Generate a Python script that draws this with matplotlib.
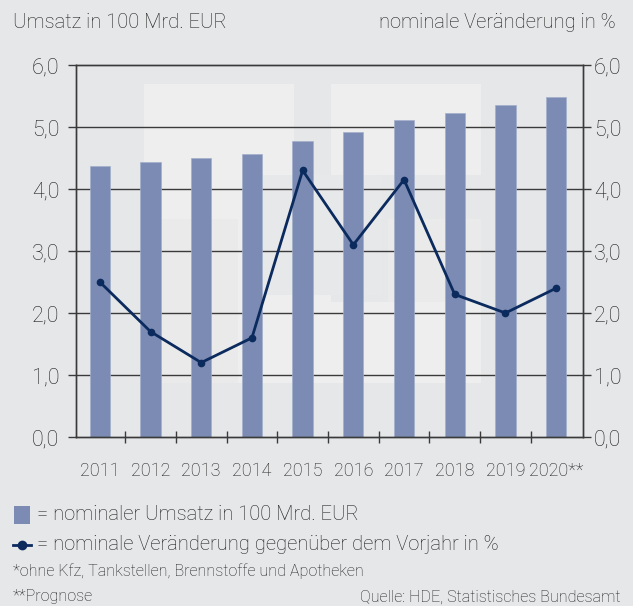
import matplotlib as mpl
mpl.use("Agg")
import matplotlib.pyplot as plt
from matplotlib.patches import Rectangle
from matplotlib.lines import Line2D
import numpy as np

years = ["2011", "2012", "2013", "2014", "2015", "2016", "2017", "2018", "2019", "2020**"]
umsatz = [4.37, 4.44, 4.50, 4.57, 4.77, 4.92, 5.11, 5.23, 5.35, 5.48]
veraenderung = [2.5, 1.7, 1.2, 1.6, 4.3, 3.1, 4.15, 2.3, 2.0, 2.4]
yticks = [0.0, 1.0, 2.0, 3.0, 4.0, 5.0, 6.0]

BG = "#e6e7e9"
LIGHT = "#eeeeee"
BAR = "#7b8bb3"
NAVY = "#0b2a5e"
INK = "#3a3a3a"
TXT = "#1e1e1e"

mpl.rcParams.update({"font.family": "Roboto", "font.weight": "light"})

W, H = 633, 606
fig = plt.figure(figsize=(W / 100, H / 100), dpi=100, facecolor=BG)
ax = fig.add_axes([76 / W, 1 - 437 / H, (583 - 76) / W, (437 - 65) / H])
ax.set_facecolor("none")


def px_rect(x0, y0, x1, y1, color):
    # rectangle given in pixel coords (origin top-left), drawn behind the axes
    fig.patches.append(Rectangle((x0 / W, 1 - y1 / H), (x1 - x0) / W, (y1 - y0) / H,
                                 transform=fig.transFigure, facecolor=color,
                                 edgecolor="none", zorder=-5))


# faint logo blocks in the plot background
px_rect(144, 84, 294, 220, LIGHT)
px_rect(331, 84, 481, 175, LIGHT)
px_rect(238, 219, 331, 383, LIGHT)
px_rect(160, 219, 238, 383, "#eaeaeb")
px_rect(331, 302, 481, 383, LIGHT)
px_rect(388, 219, 481, 302, "#eaeaeb")
px_rect(262, 175, 382, 295, "#e7e8ea")

x = np.arange(len(years))
for yv in yticks[1:-1]:
    ax.axhline(yv, color=INK, lw=1.0, zorder=1)
ax.bar(x, umsatz, width=0.4, color=BAR, edgecolor="#a3aecb", linewidth=0.5, zorder=2)
ax.plot(x, veraenderung, color=NAVY, lw=2.0, marker="o", ms=4.5, zorder=3)

ax.set_xlim(-0.47, 9.53)
ax.set_ylim(0, 6)
ax.set_yticks(yticks)
ax.set_yticklabels([f"{v:.1f}".replace(".", ",") for v in yticks])
ax.set_xticks(x[:-1] + 0.5)
ax.set_xticklabels([])
ax.set_xticks(x, minor=True)
ax.set_xticklabels(years, minor=True)
ax.tick_params(axis="x", which="major", direction="inout", length=9, width=1.0, color=INK)
ax.tick_params(axis="x", which="minor", length=0, pad=18, labelsize=13, labelcolor=TXT)
ax.tick_params(axis="y", direction="out", length=6, width=1.0, color=INK,
               labelsize=15.5, labelcolor=TXT, pad=6)
for s in ax.spines.values():
    s.set_color(INK); s.set_linewidth(1.0)

ax2 = ax.twinx()
ax2.set_ylim(0, 6)
ax2.set_yticks(yticks)
ax2.set_yticklabels([f"{v:.1f}".replace(".", ",") for v in yticks])
ax2.tick_params(axis="y", direction="out", length=6, width=1.0, color=INK,
                labelsize=15.5, labelcolor=TXT, pad=2)
for s in ax2.spines.values():
    s.set_color(INK); s.set_linewidth(1.0)

fig.text(13 / W, 1 - 22 / H, "Umsatz in 100 Mrd. EUR", fontsize=14.5, color=TXT,
         ha="left", va="center")
fig.text(616 / W, 1 - 22 / H, "nominale Veränderung in %", fontsize=14.5, color=TXT,
         ha="right", va="center")

# legend
px_rect(14, 506, 30, 524, BAR)
fig.lines.append(Line2D([13 / W, 31 / W], [1 - 545 / H, 1 - 545 / H], color=NAVY, lw=2,
                        transform=fig.transFigure))
fig.lines.append(Line2D([22 / W], [1 - 545 / H], color=NAVY, marker="o", ms=6,
                        transform=fig.transFigure))
fig.text(37 / W, 1 - 515 / H, "= nominaler Umsatz in 100 Mrd. EUR", fontsize=14.5,
         color=TXT, ha="left", va="center")
fig.text(37 / W, 1 - 545 / H, "= nominale Veränderung gegenüber dem Vorjahr in %",
         fontsize=14.5, color=TXT, ha="left", va="center")
fig.text(13 / W, 1 - 571 / H, "*ohne Kfz, Tankstellen, Brennstoffe und Apotheken",
         fontsize=11.6, color=TXT, ha="left", va="center")
fig.text(13 / W, 1 - 597 / H, "**Prognose", fontsize=11.6, color=TXT,
         ha="left", va="center")
fig.text(620 / W, 1 - 597 / H, "Quelle: HDE, Statistisches Bundesamt", fontsize=11.6,
         color=TXT, ha="right", va="center")

fig.savefig("out.png", dpi=100, facecolor=BG)
